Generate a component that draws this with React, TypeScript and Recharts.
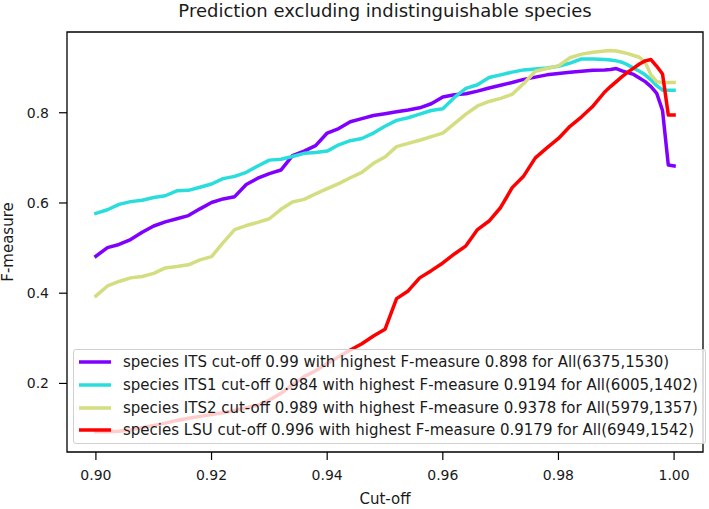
import { LineChart, Line, XAxis, YAxis, Legend, ReferenceArea } from 'recharts';

// cut-off thresholds (x axis)
const CUTOFFS = [
    0.900, 0.902, 0.904, 0.906, 0.908, 0.910, 0.912, 0.914, 0.916, 0.918,
    0.920, 0.922, 0.924, 0.926, 0.928, 0.930, 0.932, 0.934, 0.936, 0.938,
    0.940, 0.942, 0.944, 0.946, 0.948, 0.950, 0.952, 0.954, 0.956, 0.958,
    0.960, 0.962, 0.964, 0.966, 0.968, 0.970, 0.972, 0.974, 0.976, 0.978,
    0.980, 0.982, 0.984, 0.986, 0.988, 0.989, 0.990, 0.991, 0.992, 0.993,
    0.994, 0.995, 0.996, 0.997, 0.998, 0.999, 1.000,
];

// F-measure per marker
const ITS = [
    0.482, 0.501, 0.508, 0.519, 0.535, 0.549, 0.558, 0.565, 0.572, 0.587,
    0.601, 0.609, 0.614, 0.641, 0.655, 0.665, 0.673, 0.705, 0.715, 0.727,
    0.755, 0.765, 0.780, 0.787, 0.794, 0.798, 0.802, 0.806, 0.811, 0.820,
    0.835, 0.840, 0.842, 0.848, 0.855, 0.861, 0.867, 0.874, 0.879, 0.884,
    0.887, 0.890, 0.892, 0.894, 0.895, 0.896, 0.898, 0.893, 0.889, 0.885,
    0.877, 0.869, 0.858, 0.843, 0.805, 0.684, 0.682,
];
const ITS1 = [
    0.577, 0.585, 0.597, 0.603, 0.606, 0.612, 0.616, 0.627, 0.628, 0.635,
    0.642, 0.654, 0.659, 0.668, 0.682, 0.695, 0.697, 0.703, 0.710, 0.712,
    0.715, 0.729, 0.738, 0.743, 0.755, 0.770, 0.783, 0.789, 0.797, 0.805,
    0.809, 0.834, 0.854, 0.862, 0.878, 0.884, 0.890, 0.895, 0.897, 0.899,
    0.903, 0.910, 0.9194, 0.919, 0.918, 0.917, 0.915, 0.912, 0.906, 0.899,
    0.892, 0.884, 0.873, 0.860, 0.850, 0.850, 0.850,
];
const ITS2 = [
    0.394, 0.416, 0.426, 0.434, 0.437, 0.444, 0.456, 0.459, 0.463, 0.474,
    0.481, 0.512, 0.541, 0.550, 0.557, 0.565, 0.586, 0.602, 0.608, 0.620,
    0.632, 0.643, 0.656, 0.668, 0.688, 0.702, 0.725, 0.732, 0.739, 0.747,
    0.755, 0.776, 0.797, 0.815, 0.825, 0.832, 0.841, 0.865, 0.892, 0.898,
    0.904, 0.922, 0.930, 0.934, 0.937, 0.9378, 0.937, 0.934, 0.931, 0.927,
    0.923, 0.912, 0.884, 0.869, 0.867, 0.867, 0.867,
];
const LSU = [
    0.093, 0.093, 0.094, 0.097, 0.102, 0.107, 0.112, 0.118, 0.123, 0.127,
    0.131, 0.135, 0.140, 0.146, 0.152, 0.163, 0.178, 0.197, 0.215, 0.228,
    0.244, 0.259, 0.274, 0.288, 0.305, 0.320, 0.388, 0.405, 0.434, 0.450,
    0.467, 0.487, 0.505, 0.541, 0.560, 0.590, 0.634, 0.660, 0.700, 0.722,
    0.743, 0.770, 0.791, 0.815, 0.846, 0.858, 0.869, 0.880, 0.890, 0.899,
    0.908, 0.915, 0.9179, 0.903, 0.886, 0.795, 0.795,
];

const MARKERS = ['ITS', 'ITS1', 'ITS2', 'LSU'];
const BEST_CUTOFF = [0.99, 0.984, 0.989, 0.996];
const BEST_F = [0.898, 0.9194, 0.9378, 0.9179];
const COUNTS = ['6375,1530', '6005,1402', '5979,1357', '6949,1542'];

const X_TICKS = [0.9, 0.92, 0.94, 0.96, 0.98, 1.0];
const Y_TICKS = [0.2, 0.4, 0.6, 0.8];

// rainbow colormap sampled at 0, 1/3, 2/3, 1
const COLORS = ['#8000ff', '#2adddd', '#d4dd80', '#ff0000'];
const KEYS = ['its', 'its1', 'its2', 'lsu'];

const data = CUTOFFS.map((c, i) => ({
    cutoff: c,
    its: ITS[i],
    its1: ITS1[i],
    its2: ITS2[i],
    lsu: LSU[i],
}));

const FONT = '"DejaVu Sans", sans-serif';

const renderLegend = ({ payload }: any) => (
    <div
        style={{
            boxSizing: 'border-box',
            width: 633,
            height: 95,
            padding: '1px 0 0 5px',
            background: 'rgba(255,255,255,0.8)',
            border: '1px solid #d0d0d0',
            borderRadius: 3,
            fontFamily: FONT,
            fontSize: 15,
            color: '#1a1a1a',
        }}
    >
        {(payload || []).map((entry: any) => (
            <div key={entry.value} style={{ display: 'flex', alignItems: 'center', height: 22.7 }}>
                <svg width={32} height={6} style={{ flex: 'none' }}>
                    <line x1={0} y1={3} x2={32} y2={3} stroke={entry.color} strokeWidth={3.5} />
                </svg>
                <span style={{ marginLeft: 12, whiteSpace: 'nowrap' }}>{entry.value}</span>
            </div>
        ))}
    </div>
);

export default function App() {
    return (
        <div style={{ position: 'absolute', left: 0, top: 0, width: 709, height: 509, background: '#fff', fontFamily: FONT }}>
            <div
                style={{
                    position: 'absolute',
                    left: 67,
                    top: 2,
                    width: 636,
                    textAlign: 'center',
                    fontSize: 18,
                    lineHeight: '18px',
                    color: '#1a1a1a',
                    zIndex: 1,
                }}
            >
                Prediction excluding indistinguishable species
            </div>
            <LineChart width={709} height={509} data={data} margin={{ top: 32, right: 6, left: 0, bottom: 0 }}>
                <XAxis
                    dataKey="cutoff"
                    type="number"
                    domain={[0.895, 1.005]}
                    ticks={X_TICKS}
                    tickFormatter={(v) => v.toFixed(2)}
                    height={57}
                    axisLine={false}
                    tickLine={{ stroke: '#000', strokeWidth: 1.2 }}
                    tickSize={8}
                    tickMargin={10}
                    tick={{ fontSize: 14, fill: '#1a1a1a' }}
                    label={{ value: 'Cut-off', position: 'insideBottom', offset: 5, fontSize: 15, fill: '#1a1a1a' }}
                    allowDataOverflow
                />
                <YAxis
                    type="number"
                    domain={[0.048, 0.979]}
                    ticks={Y_TICKS}
                    tickFormatter={(v) => v.toFixed(1)}
                    width={67}
                    axisLine={false}
                    tickLine={{ stroke: '#000', strokeWidth: 1.2 }}
                    tickSize={8}
                    tickMargin={10}
                    tick={{ fontSize: 14, fill: '#1a1a1a' }}
                    label={{
                        value: 'F-measure',
                        angle: -90,
                        position: 'insideLeft',
                        offset: 8,
                        fontSize: 15,
                        fill: '#1a1a1a',
                        style: { textAnchor: 'middle' },
                    }}
                    allowDataOverflow
                />
                {KEYS.map((k, i) => (
                    <Line
                        key={k}
                        dataKey={k}
                        name={`species ${MARKERS[i]} cut-off ${BEST_CUTOFF[i]} with highest F-measure ${BEST_F[i]} for All(${COUNTS[i]})`}
                        stroke={COLORS[i]}
                        strokeWidth={3.5}
                        strokeLinejoin="round"
                        strokeLinecap="square"
                        dot={false}
                        activeDot={false}
                        isAnimationActive={false}
                    />
                ))}
                <ReferenceArea
                    x1={0.895}
                    x2={1.005}
                    y1={0.048}
                    y2={0.979}
                    fill="none"
                    fillOpacity={0}
                    stroke="#000"
                    strokeWidth={1.3}
                    ifOverflow="visible"
                />
                <Legend
                    layout="vertical"
                    align="center"
                    verticalAlign="middle"
                    content={renderLegend}
                    wrapperStyle={{ position: 'absolute', left: 73, top: 349, width: 633, height: 95 }}
                />
            </LineChart>
        </div>
    );
}
